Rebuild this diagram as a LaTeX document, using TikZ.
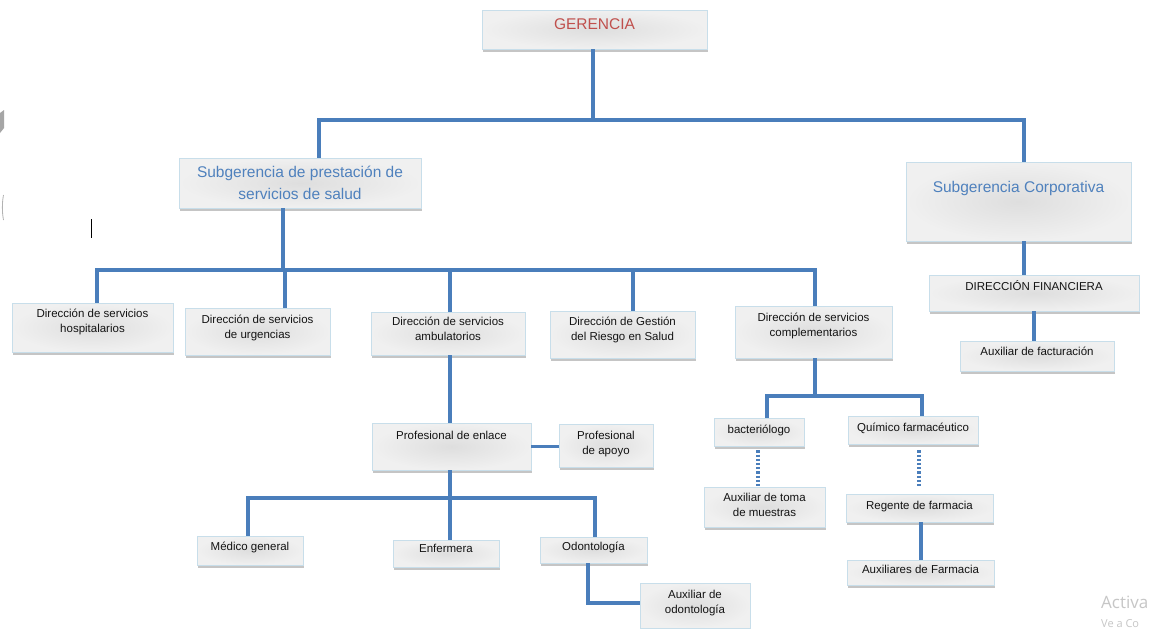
\documentclass[tikz,border=0pt]{standalone}
\usepackage{fontspec}
\setmainfont{Liberation Sans}
\newfontfamily\wmfont{Open Sans}
\usetikzlibrary{shadows}
\definecolor{lineblue}{RGB}{74,126,187}
\definecolor{boxedge}{RGB}{200,222,234}
\definecolor{boxin}{RGB}{222,222,222}
\definecolor{boxout}{RGB}{240,240,240}
\definecolor{gerred}{RGB}{192,80,77}
\definecolor{subblue}{RGB}{79,129,189}
\definecolor{txt}{RGB}{20,20,20}
\begin{document}
\begin{tikzpicture}[x=1pt,y=-1pt,
  box/.style={draw=boxedge, line width=0.7pt, inner color=boxin, outer color=boxout,
    drop shadow={shadow xshift=1.2pt, shadow yshift=-2.5pt, opacity=0.45, fill=gray},
    align=center, font=\fontsize{11.5}{15}\selectfont, text=txt, inner sep=0pt},
  sz/.style 2 args={minimum width=#1pt, minimum height=#2pt},
  tdp/.style={text depth=#1pt},
  big/.style={font=\fontsize{15.5}{22}\selectfont},
  conn/.style={draw=lineblue, line width=3.2pt, line join=miter},
  dotc/.style={draw=lineblue, line width=3.2pt, dash pattern=on 2.2pt off 2pt}]
\useasboundingbox (0,0) rectangle (1159,629);
\clip (0,0) rectangle (1159,629);
\fill[white] (0,0) rectangle (1159,629);

% nodes
\node[box, sz={225}{39}, tdp=11.5, big, text=gerred] (ger) at (594.5,29.5) {GERENCIA};
\node[box, sz={242}{50}, big, text=subblue] (sp) at (300,183) {Subgerencia de prestación de\\servicios de salud};
\node[box, sz={225}{79}, tdp=29.5, big, text=subblue] (sc) at (1018.5,201.5) {Subgerencia Corporativa};

\node[box, sz={161}{49}, tdp=12.5] (b1) at (92.5,327.5) {Dirección de servicios\\hospitalarios};
\node[box, sz={145}{47}, tdp=9.5] (b2) at (257.5,331.5) {Dirección de servicios\\de urgencias};
\node[box, sz={154}{43}, tdp=9.5] (b3) at (448,333.5) {Dirección de servicios\\ambulatorios};
\node[box, sz={145}{47}, tdp=11.5] (b4) at (622.5,334.5) {Dirección de Gestión\\del Riesgo en Salud};
\node[box, sz={157}{52}, tdp=13.5] (b5) at (813.5,332) {Dirección de servicios\\complementarios};

\node[box, sz={210}{36}, tdp=14.5] (df) at (1034,293) {DIRECCIÓN FINANCIERA};
\node[box, sz={154}{30}, tdp=8.5] (af) at (1037,356) {Auxiliar de facturación};

\node[box, sz={159}{47}, tdp=21.5] (pe) at (451.5,446.5) {Profesional de enlace};
\node[box, sz={94}{43}, tdp=4.5] (pa) at (606,445.5) {Profesional\\de apoyo};

\node[box, sz={106}{29}, tdp=7.5] (mg) at (250,550.5) {Médico general};
\node[box, sz={106}{27}, tdp=9.5] (en) at (446,553.5) {Enfermera};
\node[box, sz={107}{26}, tdp=6.5] (od) at (593.5,550) {Odontología};
\node[box, sz={110}{45}, tdp=7.5] (ao) at (695,605.5) {Auxiliar de\\odontología};

\node[box, sz={90}{28}, tdp=4.5] (ba) at (759,432) {bacteriólogo};
\node[box, sz={130}{28}, tdp=4.5] (qf) at (913,430) {Químico farmacéutico};
\node[box, sz={121}{40}, tdp=4.5] (at) at (764.5,507) {Auxiliar de toma\\de muestras};
\node[box, sz={147}{28}, tdp=4.5] (rf) at (919.5,508) {Regente de farmacia};
\node[box, sz={147}{25}, tdp=5.5] (xf) at (920.5,572.5) {Auxiliares de Farmacia};

% junction coordinates
\coordinate (g1) at (593,120);
\coordinate (j1L) at (319,120);
\coordinate (j1R) at (1024,120);
\coordinate (j2) at (283,270);
\coordinate (j2L) at (97,270);
\coordinate (j2R) at (815,270);
\coordinate (d2b) at (285,270);
\coordinate (d2c) at (450,270);
\coordinate (d2d) at (633,270);
\coordinate (k3) at (1034,300);
\coordinate (j6) at (450,498);
\coordinate (j6L) at (248,498);
\coordinate (j6R) at (595,498);
\coordinate (k7) at (588,603);
\coordinate (j8) at (815,396);
\coordinate (j8L) at (767,396);
\coordinate (j8R) at (922,396);
\coordinate (k9a) at (758,460);
\coordinate (k9b) at (919,460);
\coordinate (k10) at (921,540);

% connectors
\draw[conn] (ger.south -| g1) -- (g1);
\draw[conn] (sp.north -| j1L) -- (j1L) -- (j1R) -- (sc.north -| j1R);
\draw[conn] (sp.south -| j2) -- (j2);
\draw[conn] (b1.north -| j2L) -- (j2L) -- (j2R) -- (b5.north -| j2R);
\draw[conn] (d2b) -- (b2.north -| d2b);
\draw[conn] (d2c) -- (b3.north -| d2c);
\draw[conn] (d2d) -- (b4.north -| d2d);
\draw[conn] (sc.south -| j1R) -- (df.north -| j1R);
\draw[conn] (df.south -| k3) -- (af.north -| k3);
\draw[conn] (b3.south -| d2c) -- (pe.north -| d2c);
\draw[conn] (pe.east) -- (pe.east -| pa.west);
\draw[conn] (pe.south -| j6) -- (j6);
\draw[conn] (mg.north -| j6L) -- (j6L) -- (j6R) -- (od.north -| j6R);
\draw[conn] (j6) -- (en.north -| j6);
\draw[conn] (od.south -| k7) -- (k7) -- (k7 -| ao.west);
\draw[conn] (b5.south -| j8) -- (j8);
\draw[conn] (ba.north -| j8L) -- (j8L) -- (j8R) -- (qf.north -| j8R);
\draw[dotc, shorten <=4pt] (ba.south -| k9a) -- (at.north -| k9a);
\draw[dotc, shorten <=6pt, shorten >=7pt] (qf.south -| k9b) -- (rf.north -| k9b);
\draw[conn] (rf.south -| k10) -- (xf.north -| k10);

% stray marks at the left edge
\fill[gray!70] (0,113) -- (4,110) -- (4,128) -- (0,133) -- cycle;
\draw[gray!60, line width=0.8pt] (3.5,195) .. controls (2,203) and (2,212) .. (3.5,220);
\draw[black, line width=0.8pt] (91,219) -- (91,238);

% watermark
\node[anchor=base west, inner sep=0pt, text=gray!45, font=\wmfont\fontsize{17}{17}\selectfont] (wm1) at (1101,608) {Activa};
\node[anchor=base west, inner sep=0pt, text=gray!45, font=\wmfont\fontsize{11}{11}\selectfont] (wm2) at (1101,627) {Ve a Co};
\end{tikzpicture}
\end{document}
